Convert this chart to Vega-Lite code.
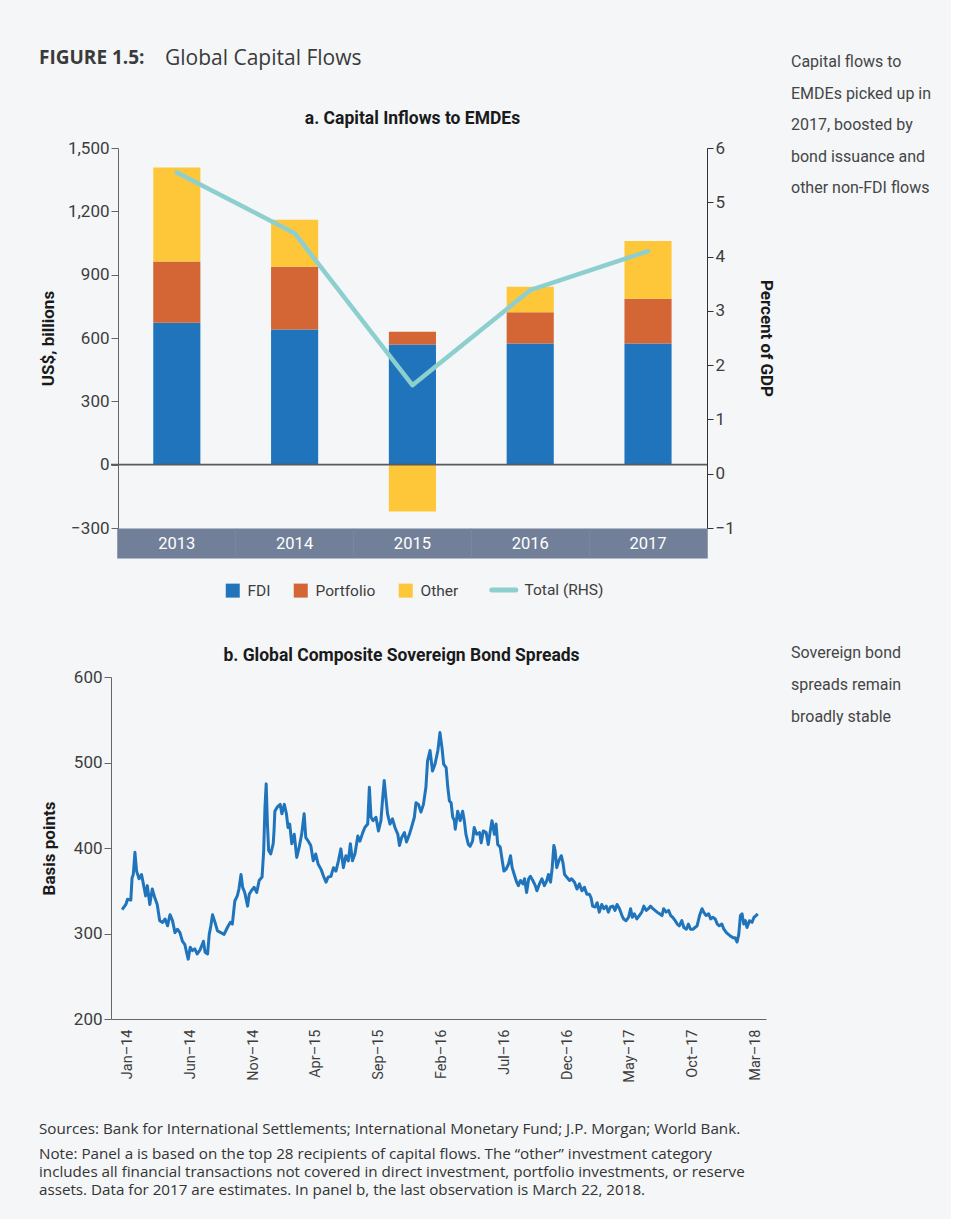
{
  "$schema": "https://vega.github.io/schema/vega-lite/v6.json",
  "background": "#f4f6f8",
  "padding": {"left": 39, "top": 47, "right": 10, "bottom": 20},
  "datasets": {
    "flows": [
      {"year": "2013", "type": "FDI", "rank": 1, "value": 672},
      {"year": "2013", "type": "Portfolio", "rank": 2, "value": 290},
      {"year": "2013", "type": "Other", "rank": 3, "value": 446},
      {"year": "2014", "type": "FDI", "rank": 1, "value": 640},
      {"year": "2014", "type": "Portfolio", "rank": 2, "value": 298},
      {"year": "2014", "type": "Other", "rank": 3, "value": 222},
      {"year": "2015", "type": "FDI", "rank": 1, "value": 569},
      {"year": "2015", "type": "Portfolio", "rank": 2, "value": 61},
      {"year": "2015", "type": "Other", "rank": 3, "value": -222},
      {"year": "2016", "type": "FDI", "rank": 1, "value": 574},
      {"year": "2016", "type": "Portfolio", "rank": 2, "value": 148},
      {"year": "2016", "type": "Other", "rank": 3, "value": 121},
      {"year": "2017", "type": "FDI", "rank": 1, "value": 574},
      {"year": "2017", "type": "Portfolio", "rank": 2, "value": 212},
      {"year": "2017", "type": "Other", "rank": 3, "value": 274}
    ],
    "total": [
      {"year": "2013", "gdp": 5.55},
      {"year": "2014", "gdp": 4.43},
      {"year": "2015", "gdp": 1.63},
      {"year": "2016", "gdp": 3.38},
      {"year": "2017", "gdp": 4.1}
    ],
    "spreads": [
      {"date": "2014-01-02", "bps": 328}, {"date": "2014-01-11", "bps": 334}, {"date": "2014-01-15", "bps": 340},
      {"date": "2014-01-23", "bps": 339}, {"date": "2014-01-26", "bps": 365}, {"date": "2014-01-29", "bps": 369},
      {"date": "2014-02-02", "bps": 395}, {"date": "2014-02-06", "bps": 373}, {"date": "2014-02-12", "bps": 364},
      {"date": "2014-02-18", "bps": 369}, {"date": "2014-02-24", "bps": 354}, {"date": "2014-02-28", "bps": 344},
      {"date": "2014-03-04", "bps": 356}, {"date": "2014-03-10", "bps": 334}, {"date": "2014-03-16", "bps": 352},
      {"date": "2014-03-22", "bps": 342}, {"date": "2014-03-28", "bps": 334}, {"date": "2014-04-03", "bps": 315},
      {"date": "2014-04-10", "bps": 313}, {"date": "2014-04-16", "bps": 317}, {"date": "2014-04-22", "bps": 309},
      {"date": "2014-04-28", "bps": 322}, {"date": "2014-05-04", "bps": 315}, {"date": "2014-05-10", "bps": 301},
      {"date": "2014-05-16", "bps": 305}, {"date": "2014-05-22", "bps": 301}, {"date": "2014-05-28", "bps": 291},
      {"date": "2014-06-03", "bps": 287}, {"date": "2014-06-08", "bps": 276}, {"date": "2014-06-11", "bps": 270},
      {"date": "2014-06-16", "bps": 284}, {"date": "2014-06-21", "bps": 280}, {"date": "2014-06-27", "bps": 282},
      {"date": "2014-07-03", "bps": 276}, {"date": "2014-07-10", "bps": 281}, {"date": "2014-07-18", "bps": 291},
      {"date": "2014-07-22", "bps": 278}, {"date": "2014-07-28", "bps": 276}, {"date": "2014-08-01", "bps": 299},
      {"date": "2014-08-05", "bps": 309}, {"date": "2014-08-09", "bps": 322}, {"date": "2014-08-15", "bps": 313},
      {"date": "2014-08-21", "bps": 303}, {"date": "2014-08-29", "bps": 301}, {"date": "2014-09-06", "bps": 299},
      {"date": "2014-09-14", "bps": 307}, {"date": "2014-09-21", "bps": 313}, {"date": "2014-09-26", "bps": 311},
      {"date": "2014-10-02", "bps": 338}, {"date": "2014-10-08", "bps": 344}, {"date": "2014-10-12", "bps": 352},
      {"date": "2014-10-17", "bps": 369}, {"date": "2014-10-21", "bps": 354}, {"date": "2014-10-26", "bps": 348},
      {"date": "2014-11-02", "bps": 332}, {"date": "2014-11-06", "bps": 346}, {"date": "2014-11-11", "bps": 350},
      {"date": "2014-11-18", "bps": 354}, {"date": "2014-11-24", "bps": 348}, {"date": "2014-11-30", "bps": 362},
      {"date": "2014-12-07", "bps": 366}, {"date": "2014-12-11", "bps": 397}, {"date": "2014-12-14", "bps": 447},
      {"date": "2014-12-17", "bps": 475}, {"date": "2014-12-20", "bps": 428}, {"date": "2014-12-23", "bps": 397},
      {"date": "2014-12-28", "bps": 393}, {"date": "2015-01-03", "bps": 405}, {"date": "2015-01-05", "bps": 420},
      {"date": "2015-01-07", "bps": 443}, {"date": "2015-01-13", "bps": 448}, {"date": "2015-01-20", "bps": 451},
      {"date": "2015-01-24", "bps": 440}, {"date": "2015-01-30", "bps": 451}, {"date": "2015-02-04", "bps": 440},
      {"date": "2015-02-08", "bps": 424}, {"date": "2015-02-12", "bps": 428}, {"date": "2015-02-17", "bps": 405},
      {"date": "2015-02-23", "bps": 416}, {"date": "2015-03-01", "bps": 389}, {"date": "2015-03-07", "bps": 401},
      {"date": "2015-03-13", "bps": 416}, {"date": "2015-03-19", "bps": 440}, {"date": "2015-03-23", "bps": 412},
      {"date": "2015-03-29", "bps": 408}, {"date": "2015-04-04", "bps": 403}, {"date": "2015-04-10", "bps": 385},
      {"date": "2015-04-16", "bps": 393}, {"date": "2015-04-22", "bps": 381}, {"date": "2015-04-29", "bps": 375},
      {"date": "2015-05-05", "bps": 367}, {"date": "2015-05-11", "bps": 360}, {"date": "2015-05-16", "bps": 366},
      {"date": "2015-05-23", "bps": 367}, {"date": "2015-05-29", "bps": 377}, {"date": "2015-06-04", "bps": 373},
      {"date": "2015-06-10", "bps": 385}, {"date": "2015-06-16", "bps": 399}, {"date": "2015-06-22", "bps": 377},
      {"date": "2015-06-28", "bps": 391}, {"date": "2015-07-04", "bps": 385}, {"date": "2015-07-09", "bps": 405},
      {"date": "2015-07-14", "bps": 385}, {"date": "2015-07-20", "bps": 393}, {"date": "2015-07-27", "bps": 414},
      {"date": "2015-08-01", "bps": 408}, {"date": "2015-08-08", "bps": 418}, {"date": "2015-08-13", "bps": 424},
      {"date": "2015-08-20", "bps": 428}, {"date": "2015-08-24", "bps": 471}, {"date": "2015-08-28", "bps": 436},
      {"date": "2015-09-02", "bps": 432}, {"date": "2015-09-09", "bps": 436}, {"date": "2015-09-15", "bps": 420},
      {"date": "2015-09-21", "bps": 432}, {"date": "2015-09-25", "bps": 457}, {"date": "2015-09-29", "bps": 479},
      {"date": "2015-10-03", "bps": 459}, {"date": "2015-10-07", "bps": 440}, {"date": "2015-10-13", "bps": 428},
      {"date": "2015-10-19", "bps": 434}, {"date": "2015-10-25", "bps": 424}, {"date": "2015-11-01", "bps": 416},
      {"date": "2015-11-05", "bps": 403}, {"date": "2015-11-10", "bps": 412}, {"date": "2015-11-17", "bps": 418},
      {"date": "2015-11-22", "bps": 407}, {"date": "2015-11-29", "bps": 416}, {"date": "2015-12-04", "bps": 424},
      {"date": "2015-12-11", "bps": 436}, {"date": "2015-12-15", "bps": 453}, {"date": "2015-12-21", "bps": 451},
      {"date": "2015-12-27", "bps": 442}, {"date": "2016-01-02", "bps": 451}, {"date": "2016-01-08", "bps": 471},
      {"date": "2016-01-12", "bps": 502}, {"date": "2016-01-18", "bps": 514}, {"date": "2016-01-24", "bps": 490},
      {"date": "2016-01-30", "bps": 498}, {"date": "2016-02-06", "bps": 514}, {"date": "2016-02-11", "bps": 535},
      {"date": "2016-02-16", "bps": 517}, {"date": "2016-02-20", "bps": 498}, {"date": "2016-02-26", "bps": 494},
      {"date": "2016-03-01", "bps": 471}, {"date": "2016-03-05", "bps": 455}, {"date": "2016-03-09", "bps": 453},
      {"date": "2016-03-13", "bps": 436}, {"date": "2016-03-17", "bps": 432}, {"date": "2016-03-19", "bps": 422},
      {"date": "2016-03-25", "bps": 443}, {"date": "2016-03-31", "bps": 432}, {"date": "2016-04-06", "bps": 443},
      {"date": "2016-04-10", "bps": 432}, {"date": "2016-04-14", "bps": 416}, {"date": "2016-04-20", "bps": 404},
      {"date": "2016-04-24", "bps": 402}, {"date": "2016-04-30", "bps": 408}, {"date": "2016-05-04", "bps": 424},
      {"date": "2016-05-10", "bps": 416}, {"date": "2016-05-17", "bps": 418}, {"date": "2016-05-21", "bps": 406},
      {"date": "2016-05-26", "bps": 420}, {"date": "2016-06-02", "bps": 418}, {"date": "2016-06-07", "bps": 404},
      {"date": "2016-06-12", "bps": 420}, {"date": "2016-06-16", "bps": 432}, {"date": "2016-06-22", "bps": 416},
      {"date": "2016-06-26", "bps": 428}, {"date": "2016-06-30", "bps": 404}, {"date": "2016-07-06", "bps": 401},
      {"date": "2016-07-11", "bps": 385}, {"date": "2016-07-15", "bps": 373}, {"date": "2016-07-20", "bps": 375},
      {"date": "2016-07-26", "bps": 381}, {"date": "2016-07-31", "bps": 391}, {"date": "2016-08-04", "bps": 377},
      {"date": "2016-08-09", "bps": 369}, {"date": "2016-08-15", "bps": 360}, {"date": "2016-08-19", "bps": 356},
      {"date": "2016-08-24", "bps": 362}, {"date": "2016-08-30", "bps": 358}, {"date": "2016-09-03", "bps": 364},
      {"date": "2016-09-08", "bps": 348}, {"date": "2016-09-13", "bps": 364}, {"date": "2016-09-17", "bps": 367},
      {"date": "2016-09-23", "bps": 362}, {"date": "2016-09-29", "bps": 356}, {"date": "2016-10-03", "bps": 350},
      {"date": "2016-10-09", "bps": 358}, {"date": "2016-10-15", "bps": 364}, {"date": "2016-10-21", "bps": 356},
      {"date": "2016-10-27", "bps": 362}, {"date": "2016-10-31", "bps": 369}, {"date": "2016-11-05", "bps": 360},
      {"date": "2016-11-09", "bps": 377}, {"date": "2016-11-13", "bps": 403}, {"date": "2016-11-16", "bps": 397},
      {"date": "2016-11-20", "bps": 377}, {"date": "2016-11-25", "bps": 385}, {"date": "2016-12-01", "bps": 391},
      {"date": "2016-12-05", "bps": 383}, {"date": "2016-12-09", "bps": 369}, {"date": "2016-12-14", "bps": 366},
      {"date": "2016-12-21", "bps": 362}, {"date": "2016-12-26", "bps": 364}, {"date": "2017-01-02", "bps": 360},
      {"date": "2017-01-08", "bps": 352}, {"date": "2017-01-14", "bps": 358}, {"date": "2017-01-20", "bps": 350},
      {"date": "2017-01-26", "bps": 354}, {"date": "2017-02-01", "bps": 346}, {"date": "2017-02-07", "bps": 346},
      {"date": "2017-02-11", "bps": 342}, {"date": "2017-02-15", "bps": 332}, {"date": "2017-02-21", "bps": 331},
      {"date": "2017-02-26", "bps": 336}, {"date": "2017-03-03", "bps": 325}, {"date": "2017-03-09", "bps": 334},
      {"date": "2017-03-14", "bps": 329}, {"date": "2017-03-20", "bps": 332}, {"date": "2017-03-25", "bps": 325},
      {"date": "2017-03-30", "bps": 331}, {"date": "2017-04-05", "bps": 332}, {"date": "2017-04-10", "bps": 327},
      {"date": "2017-04-15", "bps": 334}, {"date": "2017-04-21", "bps": 329}, {"date": "2017-04-27", "bps": 321},
      {"date": "2017-05-01", "bps": 317}, {"date": "2017-05-07", "bps": 315}, {"date": "2017-05-13", "bps": 319},
      {"date": "2017-05-18", "bps": 329}, {"date": "2017-05-22", "bps": 319}, {"date": "2017-05-27", "bps": 323},
      {"date": "2017-06-02", "bps": 317}, {"date": "2017-06-08", "bps": 321}, {"date": "2017-06-14", "bps": 325},
      {"date": "2017-06-19", "bps": 332}, {"date": "2017-06-25", "bps": 327}, {"date": "2017-06-30", "bps": 329},
      {"date": "2017-07-05", "bps": 332}, {"date": "2017-07-11", "bps": 329}, {"date": "2017-07-16", "bps": 327},
      {"date": "2017-07-21", "bps": 325}, {"date": "2017-07-27", "bps": 323}, {"date": "2017-08-02", "bps": 321},
      {"date": "2017-08-06", "bps": 329}, {"date": "2017-08-12", "bps": 325}, {"date": "2017-08-18", "bps": 327},
      {"date": "2017-08-23", "bps": 321}, {"date": "2017-08-28", "bps": 319}, {"date": "2017-09-03", "bps": 315},
      {"date": "2017-09-08", "bps": 311}, {"date": "2017-09-13", "bps": 309}, {"date": "2017-09-19", "bps": 315},
      {"date": "2017-09-24", "bps": 307}, {"date": "2017-09-30", "bps": 305}, {"date": "2017-10-05", "bps": 311},
      {"date": "2017-10-10", "bps": 305}, {"date": "2017-10-16", "bps": 305}, {"date": "2017-10-21", "bps": 307},
      {"date": "2017-10-26", "bps": 309}, {"date": "2017-11-01", "bps": 321}, {"date": "2017-11-07", "bps": 329},
      {"date": "2017-11-11", "bps": 325}, {"date": "2017-11-17", "bps": 321}, {"date": "2017-11-23", "bps": 323},
      {"date": "2017-11-28", "bps": 317}, {"date": "2017-12-03", "bps": 319}, {"date": "2017-12-09", "bps": 317},
      {"date": "2017-12-14", "bps": 311}, {"date": "2017-12-19", "bps": 309}, {"date": "2017-12-25", "bps": 311},
      {"date": "2017-12-30", "bps": 305}, {"date": "2018-01-05", "bps": 301}, {"date": "2018-01-10", "bps": 299},
      {"date": "2018-01-15", "bps": 297}, {"date": "2018-01-21", "bps": 295}, {"date": "2018-01-26", "bps": 295},
      {"date": "2018-01-31", "bps": 290}, {"date": "2018-02-04", "bps": 299}, {"date": "2018-02-08", "bps": 321},
      {"date": "2018-02-12", "bps": 323}, {"date": "2018-02-16", "bps": 311}, {"date": "2018-02-20", "bps": 315},
      {"date": "2018-02-24", "bps": 307}, {"date": "2018-03-02", "bps": 315}, {"date": "2018-03-08", "bps": 313},
      {"date": "2018-03-13", "bps": 319}, {"date": "2018-03-18", "bps": 321}, {"date": "2018-03-22", "bps": 323}
    ]
  },
  "title": {
    "text": "Sources: Bank for International Settlements; International Monetary Fund; J.P. Morgan; World Bank.",
    "subtitle": [
      "Note: Panel a is based on the top 28 recipients of capital flows. The “other” investment category",
      "includes all financial transactions not covered in direct investment, portfolio investments, or reserve",
      "assets. Data for 2017 are estimates. In panel b, the last observation is March 22, 2018."
    ],
    "orient": "bottom", "anchor": "start", "offset": 40,
    "font": "Open Sans", "fontSize": 15.2, "fontWeight": "normal", "color": "#333333",
    "subtitleFont": "Open Sans", "subtitleFontSize": 15.2, "subtitleColor": "#333333",
    "subtitleLineHeight": 18, "subtitlePadding": 10
  },
  "concat": [
    {
      "title": {"text": "FIGURE 1.5:", "anchor": "start", "font": "Open Sans", "fontSize": 19, "fontWeight": "bold", "color": "#3a3a3a", "offset": 0, "dy": 20},
      "concat": [
        {
          "title": {"text": "Global Capital Flows", "anchor": "start", "font": "Open Sans", "fontSize": 21, "fontWeight": "normal", "color": "#3a3a3a", "dx": 126, "offset": 41},
          "concat": [
            {
              "width": 596, "height": 380,
              "title": {"text": "a. Capital Inflows to EMDEs", "anchor": "middle", "dx": 3.5, "offset": 12, "font": "Roboto", "fontSize": 17.5, "fontWeight": "bold", "color": "#1a1a1a"},
              "layer": [
                {
                  "data": {"name": "flows"},
                  "layer": [
                    {
                      "mark": {"type": "bar"},
                      "encoding": {
                        "x": {"field": "year", "type": "nominal", "scale": {"paddingInner": 0.6, "paddingOuter": 0.3297, "align": 0.544},
                          "axis": {"title": null, "orient": "bottom", "domain": false, "ticks": true, "tickSize": 30, "tickWidth": 118.5, "tickColor": "#717f99", "tickCap": "butt", "labelColor": "#ffffff", "labelFontSize": 16.5, "labelAngle": 0, "labelPadding": -15, "labelBaseline": "middle"}},
                        "y": {"field": "value", "type": "quantitative", "stack": "zero", "scale": {"domain": [-300, 1500], "nice": false},
                          "axis": {"title": "US$, billions", "offset": -7, "values": [-300, 0, 300, 600, 900, 1200, 1500], "format": ",d", "tickSize": 7, "labelPadding": 2, "minExtent": 51, "maxExtent": 51, "titlePadding": 10}},
                        "color": {"field": "type", "type": "nominal",
                          "scale": {"domain": ["FDI", "Portfolio", "Other", "Total (RHS)"], "range": ["#2074bc", "#d46535", "#fec739", "#8dcfcf"]},
                          "legend": {
                            "orient": "none", "legendX": 114, "legendY": 434, "direction": "horizontal", "title": null,
                            "labelOffset": 7, "columnPadding": 22,
                            "encode": {
                              "symbols": {"update": {
                                "shape": {"signal": "datum.value === 'Total (RHS)' ? 'stroke' : 'square'"},
                                "size": {"signal": "datum.value === 'Total (RHS)' ? 576 : 196"},
                                "fill": {"signal": "datum.value === 'Total (RHS)' ? 'transparent' : (datum.value === 'FDI' ? '#2074bc' : (datum.value === 'Portfolio' ? '#d46535' : '#fec739'))"},
                                "stroke": {"signal": "datum.value === 'Total (RHS)' ? '#8dcfcf' : 'transparent'"},
                                "strokeWidth": {"signal": "datum.value === 'Total (RHS)' ? 5 : 0"},
                                "strokeCap": {"value": "round"},
                                "opacity": {"value": 1}
                              }},
                              "labels": {"update": {
                                "dx": {"signal": "datum.value === 'Total (RHS)' ? 6 : 0"}
                              }}
                            }
                          }},
                        "order": {"field": "rank", "type": "quantitative", "sort": "ascending"}
                      }
                    },
                    {
                      "data": {"values": [{}]},
                      "mark": {"type": "rule", "color": "#5a5a5a", "strokeWidth": 1.6},
                      "encoding": {"y": {"datum": 0}}
                    }
                  ]
                },
                {
                  "data": {"name": "total"},
                  "mark": {"type": "line", "strokeWidth": 4.5, "strokeCap": "round", "strokeJoin": "round"},
                  "encoding": {
                    "x": {"field": "year", "type": "nominal"},
                    "y": {"field": "gdp", "type": "quantitative", "scale": {"domain": [-1, 6], "nice": false},
                      "axis": {"orient": "right", "title": "Percent of GDP", "values": [-1, 0, 1, 2, 3, 4, 5, 6], "format": "d", "tickSize": 6, "labelPadding": 2, "minExtent": 17, "maxExtent": 17, "titlePadding": 32, "domainColor": "#333333", "tickColor": "#333333"}},
                    "color": {"datum": "Total (RHS)", "type": "nominal"}
                  }
                }
              ],
              "resolve": {"scale": {"y": "independent"}}
            },
            {
              "width": 655, "height": 342,
              "title": {"text": "b. Global Composite Sovereign Bond Spreads", "anchor": "middle", "dx": -37, "offset": 4, "font": "Roboto", "fontSize": 17.5, "fontWeight": "bold", "color": "#1a1a1a"},
              "data": {"name": "spreads"},
              "mark": {"type": "line", "color": "#2074bc", "strokeWidth": 3, "strokeJoin": "round"},
              "encoding": {
                "x": {"field": "date", "type": "temporal",
                  "scale": {"type": "utc", "domain": [{"year": 2013, "month": 12, "date": 6, "utc": true}, {"year": 2018, "month": 4, "date": 11, "utc": true}]},
                  "axis": {"title": null, "format": "%b–%y", "labelAngle": -90, "ticks": false, "labelOffset": 6, "labelPadding": 10, "labelFontSize": 14.5,
                    "values": [
                      {"year": 2014, "month": 1, "date": 1, "utc": true}, {"year": 2014, "month": 6, "date": 1, "utc": true},
                      {"year": 2014, "month": 11, "date": 1, "utc": true}, {"year": 2015, "month": 4, "date": 1, "utc": true},
                      {"year": 2015, "month": 9, "date": 1, "utc": true}, {"year": 2016, "month": 2, "date": 1, "utc": true},
                      {"year": 2016, "month": 7, "date": 1, "utc": true}, {"year": 2016, "month": 12, "date": 1, "utc": true},
                      {"year": 2017, "month": 5, "date": 1, "utc": true}, {"year": 2017, "month": 10, "date": 1, "utc": true},
                      {"year": 2018, "month": 3, "date": 1, "utc": true}
                    ]}},
                "y": {"field": "bps", "type": "quantitative", "scale": {"domain": [200, 600], "nice": false},
                  "axis": {"title": "Basis points", "values": [200, 300, 400, 500, 600], "tickSize": 7, "labelPadding": 2, "minExtent": 38, "maxExtent": 38, "titlePadding": 15}}
              }
            }
          ],
          "columns": 1, "align": "none", "spacing": 28
        }
      ],
      "columns": 1, "align": "none"
    },
    {
      "concat": [
        {
          "width": 150, "height": 477,
          "data": {"values": []},
          "mark": "text",
          "title": {"text": ["Capital flows to", "EMDEs picked up in", "2017, boosted by", "bond issuance and", "other non-FDI flows"], "orient": "top", "anchor": "start", "offset": -48, "font": "Roboto", "fontSize": 16, "fontWeight": "normal", "color": "#454545", "lineHeight": 31.5}
        },
        {
          "width": 150, "height": 60,
          "data": {"values": []},
          "mark": "text",
          "title": {"text": ["Sovereign bond", "spreads remain", "broadly stable"], "orient": "top", "anchor": "start", "offset": 0, "font": "Roboto", "fontSize": 16, "fontWeight": "normal", "color": "#454545", "lineHeight": 32}
        }
      ],
      "columns": 1, "align": "none", "spacing": 20
    }
  ],
  "columns": 2, "align": "none", "spacing": 17,
  "config": {
    "view": {"stroke": null},
    "axis": {"grid": false, "labelFont": "Roboto", "titleFont": "Roboto", "labelFontSize": 17, "labelColor": "#3d3d3d", "titleFontSize": 17, "titleFontWeight": "bold", "titleColor": "#1a1a1a", "domainColor": "#666666", "tickColor": "#666666"},
    "legend": {"labelFont": "Roboto", "labelFontSize": 15.5, "labelColor": "#3d3d3d", "padding": 0}
  }
}
